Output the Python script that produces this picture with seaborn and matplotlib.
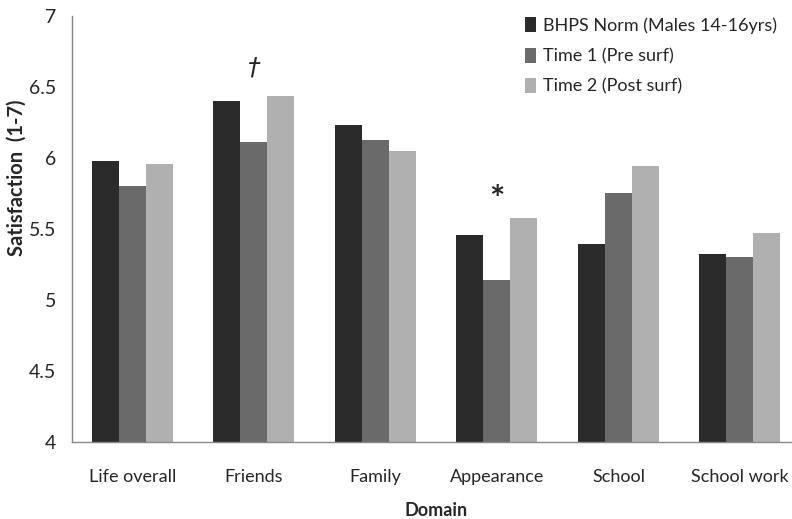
import numpy as np
import pandas as pd
import matplotlib
matplotlib.use("Agg")
import matplotlib.pyplot as plt
import seaborn as sns

# Valores
domains = ["Life overall", "Friends", "Family", "Appearance", "School", "School work"]
series = ["BHPS Norm (Males 14-16yrs)", "Time 1 (Pre surf)", "Time 2 (Post surf)"]
bhps_norm = [5.98, 6.40, 6.23, 5.46, 5.39, 5.32]
time1_pre = [5.80, 6.11, 6.13, 5.14, 5.75, 5.30]
time2_post = [5.96, 6.44, 6.05, 5.58, 5.94, 5.47]
bar_colors = ["#2b2b2b", "#6a6a6a", "#b0b0b0"]

df = pd.DataFrame({
    "Domain": domains * 3,
    "Series": np.repeat(series, len(domains)),
    "Value": bhps_norm + time1_pre + time2_post,
})

sns.set_style("white")
plt.rcParams["font.family"] = ["Lato", "DejaVu Sans"]

fig = plt.figure(figsize=(7.92, 5.19), dpi=100)
ax = fig.add_axes([0.0905, 0.149, 0.9205, 0.820])

sns.barplot(data=df, x="Domain", y="Value", hue="Series", palette=bar_colors,
            saturation=1, width=0.667, ax=ax, order=domains, hue_order=series,
            linewidth=0)

ax.set_ylim(4, 7)
ax.set_xlim(-0.5, 5.5)
ax.set_yticks([4, 4.5, 5, 5.5, 6, 6.5, 7])
ax.set_yticklabels(["4", "4.5", "5", "5.5", "6", "6.5", "7"], fontsize=14)

# ticks nas fronteiras, rótulos no centro
ax.set_xticks(np.arange(-0.5, 6, 1.0))
ax.set_xticklabels([""] * 7)
ax.set_xticks(np.arange(6), minor=True)
ax.set_xticklabels(domains, minor=True, fontsize=13)
ax.tick_params(axis="x", which="major", length=6, color="#888888", direction="out")
ax.tick_params(axis="x", which="minor", length=0, pad=20)
ax.tick_params(axis="y", length=6, color="#888888", direction="out", pad=5)

for s in ["top", "right"]:
    ax.spines[s].set_visible(False)
for s in ["left", "bottom"]:
    ax.spines[s].set_color("#888888")
    ax.spines[s].set_linewidth(1.0)

ax.set_xlabel("Domain", fontsize=13, fontweight="bold", labelpad=12)
ax.set_ylabel("Satisfaction  (1-7)", fontsize=14.5, fontweight="bold")
ax.yaxis.set_label_coords(-0.062, 0.62)

# marcas de significância
ax.text(1, 6.64, "\u2020", ha="center", va="center", fontsize=18, style="italic",
        family=["DejaVu Sans"])
ax.text(3, 5.70, "*", ha="center", va="center", fontsize=26, fontweight="bold")

leg = ax.legend(loc="upper right", bbox_to_anchor=(0.99, 1.035), frameon=False,
                fontsize=13, handlelength=0.6, handleheight=0.9, handletextpad=0.4,
                labelspacing=0.75)

fig.savefig("out.png", dpi=100)
